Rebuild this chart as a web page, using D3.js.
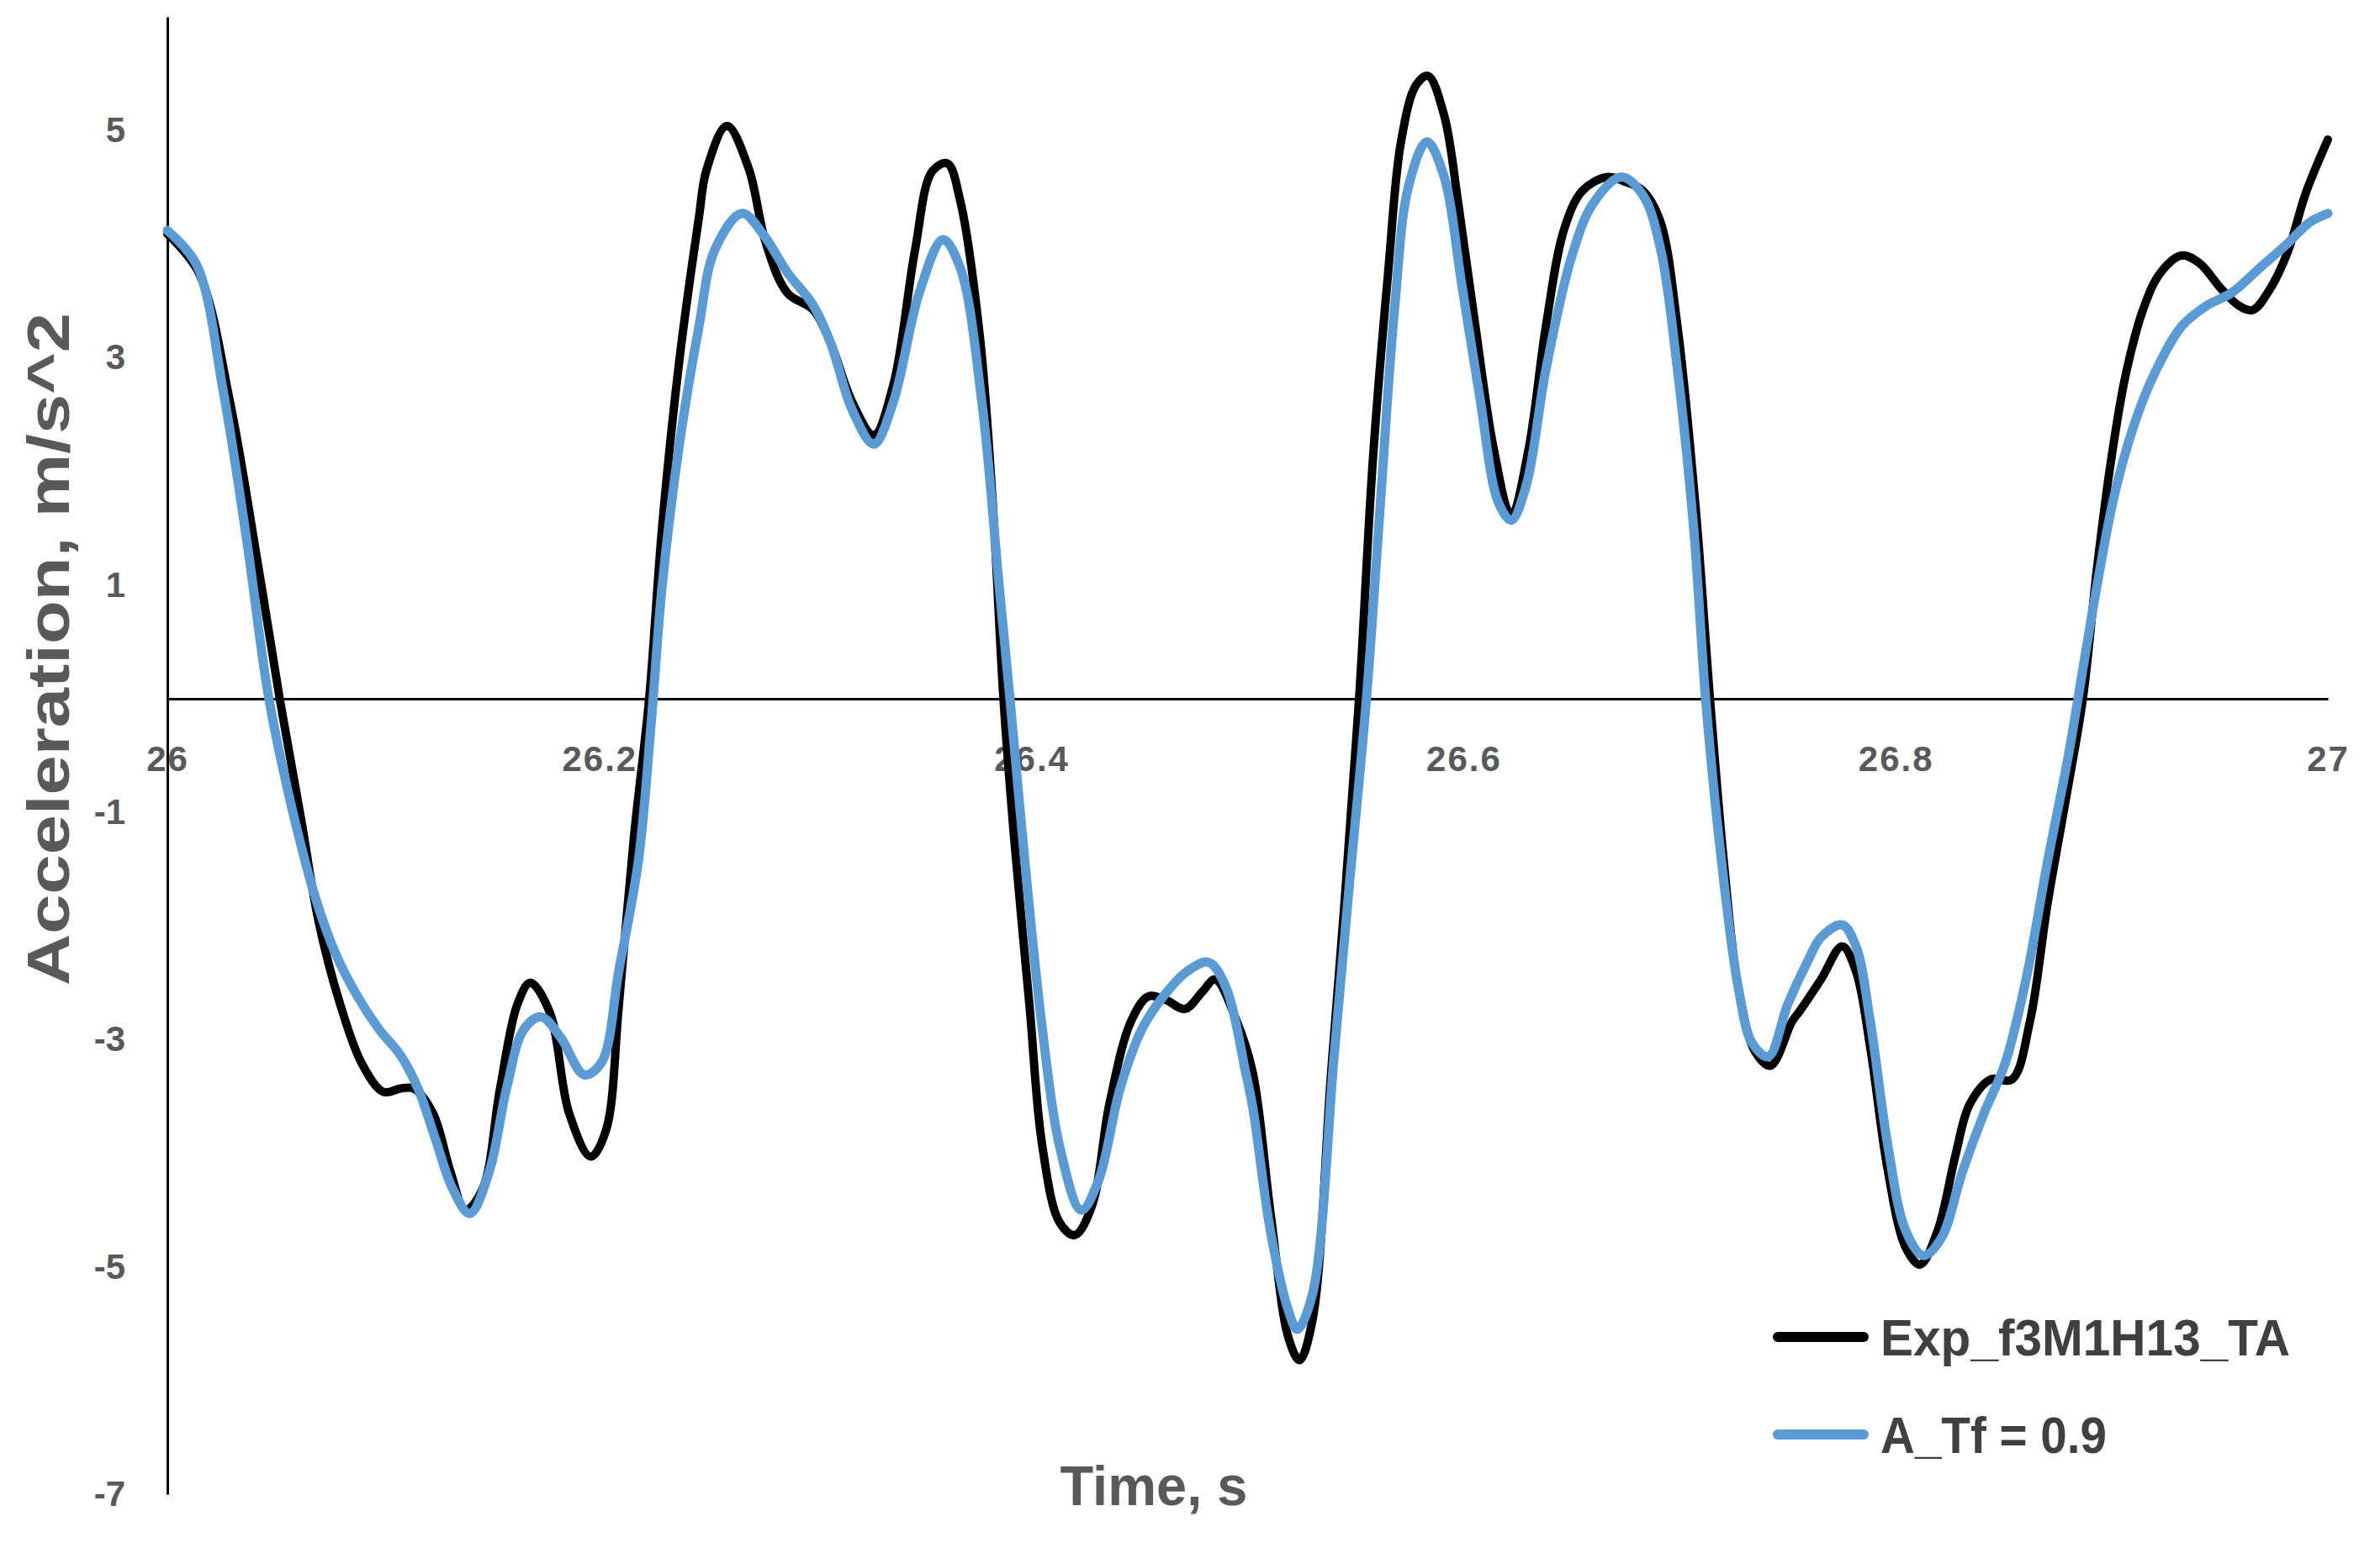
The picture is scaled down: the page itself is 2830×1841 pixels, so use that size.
<!DOCTYPE html>
<html>
<head>
<meta charset="utf-8">
<script src="https://d3js.org/d3.v7.min.js"></script>
<style>
body { margin: 0; background: #fff; }
text { font-family: "Liberation Sans", Arial, sans-serif; }
</style>
</head>
<body>
<div id="chart"></div>
<script>
// Exp_f3M1H13_TA (time offset from 26 s, acceleration m/s^2)
var expTime = [0, 0.0145, 0.029, 0.041, 0.052, 0.062, 0.070, 0.080, 0.090, 0.100, 0.108, 0.114, 0.123, 0.131, 0.138, 0.146, 0.154, 0.162, 0.168, 0.177, 0.186, 0.196, 0.203, 0.209, 0.216, 0.223, 0.229, 0.237, 0.246, 0.2495, 0.259, 0.269, 0.277, 0.287, 0.299, 0.307, 0.317, 0.327, 0.336, 0.346, 0.354, 0.361, 0.367, 0.376, 0.382, 0.387, 0.392, 0.399, 0.405, 0.413, 0.420, 0.428, 0.436, 0.446, 0.454, 0.462, 0.471, 0.479, 0.485, 0.495, 0.5025, 0.5107, 0.519, 0.524, 0.530, 0.5386, 0.545, 0.5516, 0.558, 0.565, 0.571, 0.578, 0.5835, 0.591, 0.5975, 0.6055, 0.614, 0.622, 0.630, 0.638, 0.6465, 0.655, 0.6665, 0.6745, 0.683, 0.691, 0.699, 0.7075, 0.714, 0.7205, 0.727, 0.735, 0.742, 0.752, 0.7555, 0.7654, 0.7752, 0.7816, 0.7882, 0.7964, 0.8046, 0.8112, 0.8194, 0.8276, 0.8342, 0.8439, 0.8538, 0.8621, 0.8702, 0.8784, 0.8866, 0.8931, 0.8996, 0.9062, 0.9144, 0.9226, 0.9325, 0.9407, 0.9505, 0.9587, 0.9652, 0.9734, 0.9816, 0.9898, 1.0];
var expAcc = [4.09, 3.75, 2.61, 1.29, 0.00, -1.07, -1.96, -2.69, -3.21, -3.46, -3.43, -3.43, -3.65, -4.16, -4.50, -4.31, -3.43, -2.69, -2.50, -2.76, -3.65, -4.03, -3.80, -2.69, -1.21, 0.00, 1.51, 2.98, 4.23, 4.65, 5.04, 4.67, 4.01, 3.57, 3.42, 3.13, 2.61, 2.32, 2.76, 3.94, 4.64, 4.71, 4.38, 3.20, 1.73, 0.00, -1.24, -2.69, -3.94, -4.61, -4.72, -4.46, -3.57, -2.84, -2.62, -2.65, -2.73, -2.58, -2.47, -2.84, -3.30, -4.54, -5.63, -5.82, -5.47, -3.30, -1.76, 0.00, 2.11, 3.74, 4.90, 5.40, 5.48, 5.13, 4.36, 3.27, 2.19, 1.61, 2.19, 3.27, 4.13, 4.47, 4.59, 4.55, 4.47, 4.20, 3.27, 1.65, 0.00, -1.45, -2.53, -3.11, -3.23, -2.84, -2.75, -2.47, -2.18, -2.40, -3.07, -4.16, -4.83, -4.98, -4.68, -4.02, -3.57, -3.35, -3.35, -2.84, -1.81, -0.92, 0.00, 1.14, 2.09, 2.83, 3.42, 3.75, 3.90, 3.83, 3.61, 3.46, 3.42, 3.61, 3.94, 4.45, 4.92];

// A_Tf = 0.9
var simTime = [0, 0.0135, 0.026, 0.037, 0.047, 0.059, 0.069, 0.078, 0.088, 0.098, 0.108, 0.116, 0.124, 0.132, 0.140, 0.149, 0.157, 0.165, 0.173, 0.182, 0.193, 0.201, 0.209, 0.218, 0.224, 0.229, 0.237, 0.246, 0.2534, 0.266, 0.276, 0.287, 0.299, 0.307, 0.317, 0.327, 0.336, 0.348, 0.359, 0.367, 0.377, 0.385, 0.390, 0.397, 0.405, 0.413, 0.423, 0.431, 0.441, 0.451, 0.461, 0.472, 0.482, 0.490, 0.499, 0.5025, 0.5107, 0.519, 0.523, 0.530, 0.540, 0.5465, 0.555, 0.5615, 0.568, 0.5745, 0.583, 0.591, 0.599, 0.6075, 0.616, 0.622, 0.629, 0.638, 0.650, 0.660, 0.673, 0.683, 0.691, 0.699, 0.7065, 0.712, 0.719, 0.727, 0.7335, 0.741, 0.750, 0.7595, 0.7654, 0.7752, 0.7816, 0.7882, 0.7964, 0.8046, 0.8128, 0.8210, 0.8309, 0.8408, 0.8506, 0.8603, 0.8702, 0.8801, 0.8866, 0.8931, 0.9013, 0.9112, 0.9210, 0.9325, 0.9440, 0.9554, 0.9685, 0.9816, 0.9914, 1.0];
var simAcc = [4.12, 3.82, 2.69, 1.36, 0.00, -1.07, -1.78, -2.25, -2.62, -2.91, -3.14, -3.43, -3.87, -4.31, -4.53, -4.16, -3.43, -2.91, -2.80, -2.98, -3.31, -3.20, -2.39, -1.43, -0.20, 0.99, 2.24, 3.27, 3.95, 4.27, 4.08, 3.75, 3.46, 3.13, 2.54, 2.24, 2.61, 3.57, 4.04, 3.79, 2.61, 0.99, 0.00, -1.45, -2.91, -3.94, -4.50, -4.24, -3.43, -2.91, -2.62, -2.40, -2.32, -2.54, -3.28, -3.61, -4.70, -5.39, -5.55, -5.24, -3.15, -1.76, 0.00, 1.73, 3.43, 4.51, 4.90, 4.59, 3.66, 2.65, 1.73, 1.57, 1.88, 2.89, 3.89, 4.36, 4.59, 4.43, 3.97, 2.89, 1.49, 0.00, -1.37, -2.53, -3.03, -3.15, -2.69, -2.30, -2.10, -1.99, -2.18, -2.84, -3.94, -4.68, -4.90, -4.75, -4.16, -3.65, -3.21, -2.47, -1.44, -0.48, 0.26, 0.99, 1.80, 2.46, 2.91, 3.28, 3.46, 3.57, 3.79, 4.01, 4.19, 4.27];

var xTicks = [26, 26.2, 26.4, 26.6, 26.8, 27];
var yTicks = [-7, -5, -3, -1, 1, 3, 5];
var seriesNames = ["Exp_f3M1H13_TA", "A_Tf = 0.9"];
var seriesColors = ["#000000", "#5b9bd5"];

var width = 2830, height = 1841;
var x = d3.scaleLinear().domain([26, 27]).range([199, 2768]);
var y = d3.scaleLinear().domain([-7, 6]).range([1777, 20]);

var svg = d3.select("#chart").append("svg").attr("width", width).attr("height", height)
    .style("background", "#fff");

var yAxis = svg.append("g").attr("transform", "translate(199,0)")
    .call(d3.axisLeft(y).tickValues(yTicks).tickSize(0).tickSizeOuter(0).tickPadding(50)
        .tickFormat(function(d){ return String(d); }));
yAxis.select(".domain").attr("stroke", "#000").attr("stroke-width", 3);
yAxis.selectAll("text").attr("font-size", 42).attr("font-weight", "bold").attr("fill", "#595959")
    .attr("font-family", "Liberation Sans, Arial, sans-serif");

var xAxis = svg.append("g").attr("transform", "translate(0," + y(0) + ")")
    .call(d3.axisBottom(x).tickValues(xTicks).tickSize(0).tickSizeOuter(0).tickPadding(56)
        .tickFormat(function(d){ return String(d); }));
xAxis.select(".domain").attr("stroke", "#000").attr("stroke-width", 3);
xAxis.selectAll("text").attr("font-size", 42).attr("font-weight", "bold").attr("fill", "#595959")
    .attr("font-family", "Liberation Sans, Arial, sans-serif").attr("letter-spacing", 2);

var line = d3.line()
    .x(function(d){ return x(26 + d[0]); })
    .y(function(d){ return y(d[1]); })
    .curve(d3.curveCatmullRom.alpha(0.5));

var expData = d3.zip(expTime, expAcc);
var simData = d3.zip(simTime, simAcc);

svg.append("path").datum(expData).attr("d", line).attr("fill", "none")
    .attr("stroke", seriesColors[0]).attr("stroke-width", 10)
    .attr("stroke-linejoin", "round").attr("stroke-linecap", "round");
svg.append("path").datum(simData).attr("d", line).attr("fill", "none")
    .attr("stroke", seriesColors[1]).attr("stroke-width", 11)
    .attr("stroke-linejoin", "round").attr("stroke-linecap", "round");

// axis titles
svg.append("text").attr("x", 1372).attr("y", 1790).attr("text-anchor", "middle")
    .attr("font-size", 66).attr("font-weight", "bold").attr("fill", "#595959")
    .attr("textLength", 223).attr("lengthAdjust", "spacingAndGlyphs")
    .text("Time, s");
svg.append("text").attr("transform", "translate(82,772) rotate(-90)").attr("text-anchor", "middle")
    .attr("font-size", 70).attr("font-weight", "bold").attr("fill", "#595959")
    .attr("textLength", 800).attr("lengthAdjust", "spacingAndGlyphs")
    .text("Acceleration, m/s^2");

// legend
var legendY = [1590, 1706];
var legendLen = [487, 269];
seriesNames.forEach(function(name, i){
    svg.append("line").attr("x1", 2114).attr("x2", 2216).attr("y1", legendY[i]).attr("y2", legendY[i])
        .attr("stroke", seriesColors[i]).attr("stroke-width", 12).attr("stroke-linecap", "round");
    svg.append("text").attr("x", 2236).attr("y", legendY[i] + 22)
        .attr("font-size", 62).attr("font-weight", "bold").attr("fill", "#404040")
        .attr("textLength", legendLen[i]).attr("lengthAdjust", "spacingAndGlyphs")
        .text(name);
});
</script>
</body>
</html>
